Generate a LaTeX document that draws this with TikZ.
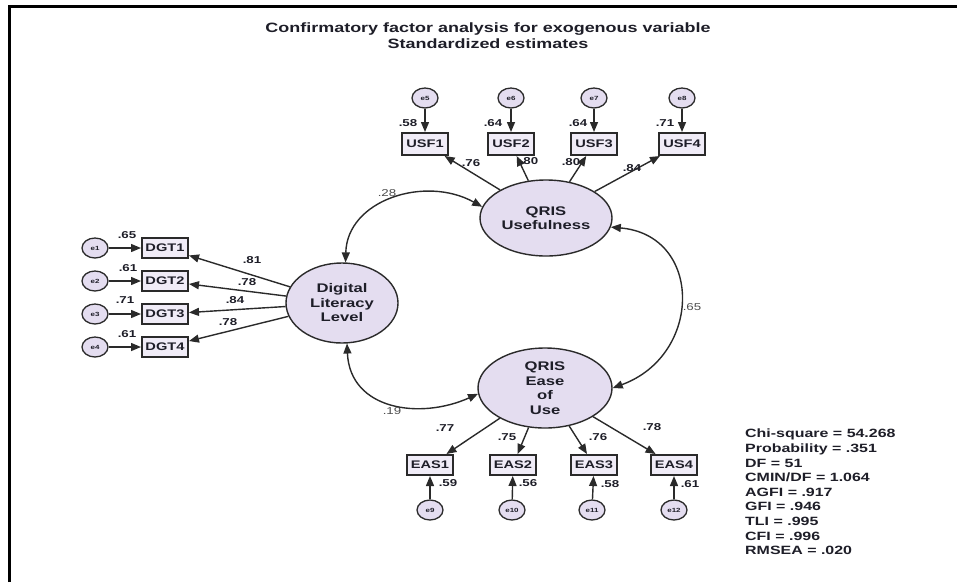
\documentclass[tikz,border=0pt]{standalone}
\usepackage{fontspec}
\setmainfont{Liberation Sans}
\usepackage{graphicx}
\usetikzlibrary{shapes.geometric,arrows.meta}
% text in this figure is set a little wider than the font's natural width
\newcommand\wx[1]{\scalebox{1.33}[1]{#1}}
\definecolor{linec}{HTML}{2A2A2A}
\definecolor{latfill}{HTML}{E4DDF0}
\definecolor{boxfill}{HTML}{F0ECF7}
\definecolor{textc}{HTML}{1E1E28}
\begin{document}
\begin{tikzpicture}[x=1pt,y=-1pt,
  latent/.style={ellipse, draw=linec, line width=1.4pt, fill=latfill, inner sep=0pt,
    font=\fontsize{12.5}{14.5}\selectfont\bfseries, align=center, text=textc},
  obs/.style={rectangle, draw=linec, line width=2pt, fill=boxfill, minimum width=46pt,
    minimum height=20pt, inner sep=0pt, font=\fontsize{11}{13}\selectfont\bfseries, text=textc},
  err/.style={ellipse, draw=linec, line width=1.3pt, fill=latfill, minimum width=26pt,
    minimum height=20pt, inner sep=0pt, font=\fontsize{6}{7}\selectfont\bfseries, text=textc},
  coef/.style={font=\fontsize{10}{12}\selectfont\bfseries, inner sep=0pt, text=textc},
  covlab/.style={font=\fontsize{10}{12}\selectfont, inner sep=0pt, text=black!70},
  load/.style={draw=linec, line width=1.4pt, -{Triangle[length=10pt,width=8pt]}},
  covarc/.style={draw=linec, line width=1.4pt, {Triangle[length=10pt,width=8pt]}-{Triangle[length=10pt,width=8pt]}}
]
\useasboundingbox (0,0) rectangle (957,582);
% frame
\draw[line width=2.7pt, black] (9.7,582) |- (957,6.3);

% title
\node[font=\fontsize{13.5}{16}\selectfont\bfseries, align=center, text=textc] (title) at (488,36)
  {\wx{Confirmatory factor analysis for exogenous variable}\\\wx{Standardized estimates}};

% latent variables
\node[latent, minimum width=132pt, minimum height=76pt] (usf) at (546,218) {\wx{QRIS}\\\wx{Usefulness}};
\node[latent, minimum width=112pt, minimum height=80pt] (dgt) at (342,303) {\wx{Digital}\\\wx{Literacy}\\\wx{Level}};
\node[latent, minimum width=134pt, minimum height=80pt] (eas) at (545,388) {\wx{QRIS}\\\wx{Ease}\\\wx{of}\\\wx{Use}};

% usefulness indicators
\foreach \i/\x/\ex in {1/425/5,2/511/6,3/594/7,4/682/8} {
  \node[obs, minimum height=22pt] (usf\i) at (\x,144) {\wx{USF\i}};
  \node[err] (e\ex) at (\x,98) {\wx{e\ex}};
  \draw[load] (e\ex) -- (usf\i);
  \draw[load] (usf) -- (usf\i);
}
% digital literacy indicators
\foreach \i/\y in {1/248,2/281,3/314,4/347} {
  \node[obs] (dgt\i) at (165,\y) {\wx{DGT\i}};
  \node[err] (e\i) at (95,\y) {\wx{e\i}};
  \draw[load] (e\i) -- (dgt\i);
  \draw[load] (dgt) -- (dgt\i);
}
% ease of use indicators
\foreach \i/\x/\ex/\xe in {1/430/9/430,2/513/10/512,3/594/11/592,4/674/12/674} {
  \node[obs] (eas\i) at (\x,465) {\wx{EAS\i}};
  \node[err] (e\ex) at (\xe,510) {\wx{e\ex}};
  \draw[load] (e\ex) -- (eas\i);
  \draw[load] (eas) -- (eas\i);
}

% covariances
\draw[covarc] (dgt.85) .. controls (347,200) and (425,175) .. (usf.170);
\draw[covarc] (usf.-8) .. controls (703,235) and (703,355) .. (eas.0);
\draw[covarc] (dgt.-83) .. controls (350,410) and (420,420) .. (eas.185);
\node[covlab] (c1) at (387,193) {\wx{.28}};
\node[covlab] (c2) at (692,307) {\wx{.65}};
\node[covlab] (c3) at (392,411) {\wx{.19}};

% factor loadings
\node[coef] at (471,163) {\wx{.76}};
\node[coef] at (529,161) {\wx{.80}};
\node[coef] at (571,162) {\wx{.80}};
\node[coef] at (632,168) {\wx{.84}};
\node[coef] at (252,260) {\wx{.81}};
\node[coef] at (247,282) {\wx{.78}};
\node[coef] at (235,300) {\wx{.84}};
\node[coef] at (228,322) {\wx{.78}};
\node[coef] at (445,428) {\wx{.77}};
\node[coef] at (507,437) {\wx{.75}};
\node[coef] at (598,437) {\wx{.76}};
\node[coef] at (652,427) {\wx{.78}};

% squared multiple correlations
\node[coef] at (408,123) {\wx{.58}};
\node[coef] at (493,123) {\wx{.64}};
\node[coef] at (578,123) {\wx{.64}};
\node[coef] at (665,123) {\wx{.71}};
\node[coef] at (127,235) {\wx{.65}};
\node[coef] at (128,268) {\wx{.61}};
\node[coef] at (125,300) {\wx{.71}};
\node[coef] at (127,334) {\wx{.61}};
\node[coef] at (448,483) {\wx{.59}};
\node[coef] at (528,483) {\wx{.56}};
\node[coef] at (610,484) {\wx{.58}};
\node[coef] at (690,484) {\wx{.61}};

% fit indices
\node[anchor=north west, align=left, inner sep=0pt, text=textc,
      font=\fontsize{12}{14.6}\selectfont\bfseries] (fit) at (745,429)
  {\wx{Chi-square = 54.268}\\\wx{Probability = .351}\\\wx{DF = 51}\\\wx{CMIN/DF = 1.064}\\
   \wx{AGFI = .917}\\\wx{GFI = .946}\\\wx{TLI = .995}\\\wx{CFI = .996}\\\wx{RMSEA = .020}};
\end{tikzpicture}
\end{document}
